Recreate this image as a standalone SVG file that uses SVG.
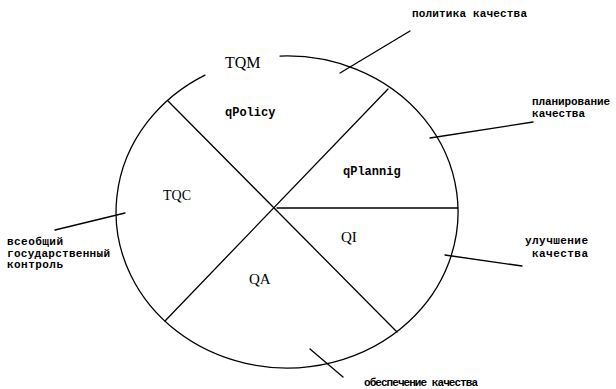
<svg xmlns="http://www.w3.org/2000/svg" width="616" height="389" viewBox="0 0 616 389">
<style>
.ln{stroke:#000;stroke-width:1.3;fill:none;stroke-linecap:round}
.big{font-family:"Liberation Serif",serif;fill:#000}
.code{font-family:"Liberation Mono",monospace;font-weight:bold;font-size:12px;fill:#000}
.ru{font-family:"Liberation Mono",monospace;font-weight:bold;font-size:11px;fill:#000}
</style>
<rect width="616" height="389" fill="#fff"/>
<g id="circle">
<path class="ln" d="M 280 56.1 A 171 156 0 1 1 205 75.1"/>
</g>
<g id="connectors">
<line class="ln" x1="388" y1="89" x2="165" y2="321"/>
<line class="ln" x1="168" y1="101" x2="397" y2="332"/>
<line class="ln" x1="277" y1="208" x2="458" y2="208"/>
<line class="ln" x1="340" y1="73" x2="410" y2="31"/>
<line class="ln" x1="430" y1="138" x2="533" y2="122"/>
<line class="ln" x1="445" y1="255" x2="522" y2="266"/>
<line class="ln" x1="55" y1="230" x2="125" y2="213"/>
<line class="ln" x1="310" y1="349" x2="343" y2="377"/>
</g>
<g id="TQM"><text class="big" x="225" y="68" font-size="16">TQM</text></g>
<g id="qPolicy"><text class="code" x="225" y="116">qPolicy</text></g>
<g id="qPlannig"><text class="code" x="343" y="175">qPlannig</text></g>
<g id="TQC"><text class="big" x="163" y="200" font-size="14">TQC</text></g>
<g id="QI"><text class="big" x="341" y="242" font-size="15">QI</text></g>
<g id="QA"><text class="big" x="249" y="284" font-size="15">QA</text></g>
<g id="label-policy"><text class="ru" x="412" y="17" textLength="115">политика качества</text></g>
<g id="label-planning"><text class="ru" x="532" y="105" textLength="78">планирование</text><text class="ru" x="532" y="117" textLength="53">качества</text></g>
<g id="label-improvement"><text class="ru" x="525" y="244" textLength="63">улучшение</text><text class="ru" x="532" y="257" textLength="56">качества</text></g>
<g id="label-control"><text class="ru" x="7" y="245" textLength="56">всеобщий</text><text class="ru" x="7" y="257" textLength="103">государственный</text><text class="ru" x="7" y="268" textLength="56">контроль</text></g>
<g id="label-assurance"><text class="ru" x="364" y="386" textLength="114">обеспечение качества</text></g>
</svg>
